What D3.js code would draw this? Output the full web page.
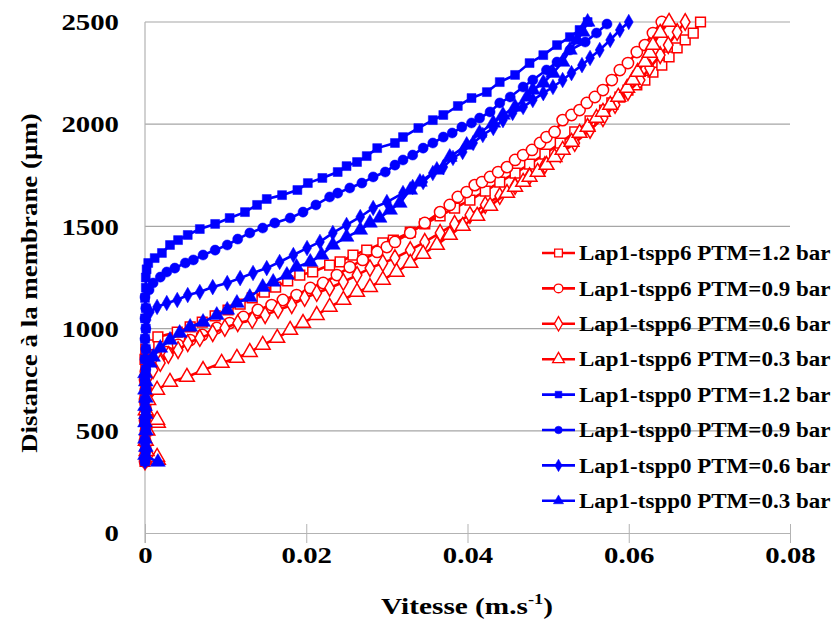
<!DOCTYPE html>
<html><head><meta charset="utf-8">
<script src="https://cdn.jsdelivr.net/npm/d3@7"></script>
<style>body{margin:0;background:#fff}svg{display:block}text{font-family:"Liberation Serif","Times New Roman",serif;font-weight:bold;fill:#000}</style>
</head><body><svg id="c" width="834" height="623"></svg>
<script>
// [velocity (m/s), distance (µm)]
const tspp6_12 = [[0,350],[0.0001,400],[0,450],[0.0001,500],[0,550],[0.0001,600],[0,650],[0.0001,700],[0,750],[0.0001,800],[0,850],[0.0001,900],[0.0005,920],[0.0016,959],[0.0040,983],[0.0056,1008],[0.0071,1032],[0.0087,1062],[0.0103,1091],[0.0118,1120],[0.0133,1150],[0.0148,1179],[0.0162,1203],[0.0177,1233],[0.0192,1262],[0.0208,1277],[0.0229,1311],[0.0242,1326],[0.0258,1360],[0.0275,1384],[0.0295,1419],[0.0308,1433],[0.0329,1472],[0.0347,1512],[0.0366,1551],[0.0384,1590],[0.0403,1629],[0.0422,1673],[0.0440,1717],[0.0459,1761],[0.0477,1805],[0.0496,1854],[0.0515,1908],[0.0533,1962],[0.0552,2016],[0.0570,2069],[0.0579,2104],[0.0589,2133],[0.0599,2167],[0.0610,2192],[0.0620,2216],[0.0630,2255],[0.0641,2289],[0.0650,2329],[0.0660,2373],[0.0670,2412],[0.0680,2446],[0.0689,2500]];
const tspp6_09 = [[0,350],[0.0001,400],[0,450],[0.0001,500],[0,550],[0.0001,600],[0,650],[0.0001,700],[0,750],[0.0001,790],[0.0006,812],[0.0016,856],[0.0027,885],[0.0041,920],[0.0056,944],[0.0071,969],[0.0089,1003],[0.0105,1027],[0.0122,1057],[0.0140,1091],[0.0157,1115],[0.0171,1140],[0.0188,1164],[0.0205,1199],[0.0221,1223],[0.0238,1262],[0.0254,1301],[0.0270,1336],[0.0288,1375],[0.0300,1399],[0.0310,1424],[0.0329,1468],[0.0347,1517],[0.0366,1570],[0.0378,1605],[0.0388,1644],[0.0399,1668],[0.0409,1702],[0.0418,1717],[0.0428,1742],[0.0438,1766],[0.0449,1790],[0.0459,1825],[0.0469,1849],[0.0480,1874],[0.0490,1908],[0.0498,1937],[0.0508,1962],[0.0518,2020],[0.0529,2045],[0.0539,2069],[0.0548,2104],[0.0558,2133],[0.0568,2167],[0.0579,2216],[0.0589,2265],[0.0599,2299],[0.0610,2353],[0.0620,2387],[0.0630,2446],[0.0641,2500]];
const tspp6_06 = [[0,350],[0.0001,400],[0,450],[0.0001,500],[0,550],[0.0001,600],[0,650],[0.0001,700],[0.0003,760],[0.0010,797],[0.0019,832],[0.0029,871],[0.0041,895],[0.0053,929],[0.0068,954],[0.0084,978],[0.0099,1003],[0.0115,1027],[0.0133,1042],[0.0149,1066],[0.0165,1091],[0.0182,1115],[0.0198,1150],[0.0213,1174],[0.0229,1199],[0.0246,1228],[0.0263,1262],[0.0279,1296],[0.0295,1321],[0.0310,1345],[0.0329,1384],[0.0347,1424],[0.0366,1468],[0.0384,1512],[0.0403,1556],[0.0422,1605],[0.0440,1649],[0.0459,1698],[0.0477,1746],[0.0496,1800],[0.0515,1854],[0.0533,1908],[0.0552,1972],[0.0568,2030],[0.0583,2094],[0.0599,2157],[0.0614,2216],[0.0626,2275],[0.0639,2338],[0.0649,2387],[0.0660,2451],[0.0670,2500]];
const tspp6_03 = [[0.0016,357],[0.0015,372],[0.0002,400],[0.0001,450],[0.0003,500],[0.0016,538],[0.0015,553],[0.0001,600],[0.0004,650],[0.0015,700],[0.0031,739],[0.0052,763],[0.0072,797],[0.0095,832],[0.0114,856],[0.0130,885],[0.0146,920],[0.0164,954],[0.0180,993],[0.0196,1027],[0.0213,1066],[0.0229,1106],[0.0246,1140],[0.0263,1179],[0.0279,1203],[0.0295,1238],[0.0312,1277],[0.0329,1321],[0.0345,1365],[0.0362,1409],[0.0378,1458],[0.0394,1502],[0.0412,1551],[0.0428,1600],[0.0449,1663],[0.0459,1693],[0.0469,1717],[0.0477,1742],[0.0487,1766],[0.0498,1800],[0.0508,1839],[0.0518,1874],[0.0529,1913],[0.0539,1957],[0.0549,1986],[0.0560,2030],[0.0568,2060],[0.0577,2094],[0.0587,2133],[0.0598,2177],[0.0605,2216],[0.0611,2255],[0.0620,2304],[0.0626,2348],[0.0630,2387],[0.0639,2446],[0.0650,2500]];
const tspp0_12 = [[0,350],[0.0001,400],[0,450],[0.0001,500],[0,550],[0.0001,600],[0,650],[0.0001,700],[0,750],[0.0001,800],[0,850],[0.0001,900],[0,950],[0.0001,1000],[0,1050],[0.0001,1100],[0,1150],[0.0001,1200],[0.0001,1250],[0.0002,1290],[0.0004,1321],[0.0012,1345],[0.0021,1370],[0.0031,1409],[0.0041,1433],[0.0053,1458],[0.0068,1487],[0.0087,1512],[0.0105,1541],[0.0124,1570],[0.0139,1605],[0.0151,1634],[0.0170,1653],[0.0189,1678],[0.0202,1712],[0.0220,1737],[0.0239,1766],[0.0250,1795],[0.0263,1815],[0.0275,1844],[0.0288,1883],[0.0310,1908],[0.0320,1937],[0.0339,1981],[0.0357,2020],[0.0370,2045],[0.0388,2089],[0.0405,2128],[0.0424,2157],[0.0440,2206],[0.0459,2241],[0.0477,2299],[0.0494,2338],[0.0511,2387],[0.0527,2426],[0.0539,2461],[0.0549,2500]];
const tspp0_09 = [[0,350],[0.0001,400],[0,450],[0.0001,500],[0,550],[0.0001,600],[0,650],[0.0001,700],[0,750],[0.0001,800],[0,850],[0.0001,900],[0,950],[0.0001,1000],[0,1050],[0.0001,1100],[0,1154],[0.0005,1189],[0.0010,1223],[0.0019,1252],[0.0027,1277],[0.0037,1296],[0.0050,1321],[0.0060,1336],[0.0072,1360],[0.0087,1384],[0.0102,1409],[0.0115,1438],[0.0130,1468],[0.0146,1492],[0.0161,1517],[0.0180,1541],[0.0196,1570],[0.0212,1605],[0.0229,1644],[0.0239,1663],[0.0254,1688],[0.0269,1712],[0.0283,1742],[0.0298,1766],[0.0310,1800],[0.0320,1825],[0.0332,1849],[0.0345,1883],[0.0357,1908],[0.0370,1937],[0.0381,1957],[0.0393,1986],[0.0405,2006],[0.0415,2030],[0.0428,2060],[0.0440,2104],[0.0453,2133],[0.0469,2182],[0.0481,2216],[0.0498,2265],[0.0511,2304],[0.0527,2363],[0.0546,2402],[0.0560,2446],[0.0573,2490]];
const tspp0_06 = [[0,350],[0.0001,400],[0,450],[0.0001,500],[0,550],[0.0001,600],[0,650],[0.0001,700],[0,750],[0.0001,800],[0,850],[0.0001,900],[0,950],[0.0001,1000],[0.0002,1042],[0.0006,1081],[0.0015,1106],[0.0027,1125],[0.0040,1140],[0.0053,1164],[0.0068,1179],[0.0084,1203],[0.0102,1223],[0.0118,1247],[0.0134,1272],[0.0151,1296],[0.0167,1326],[0.0184,1360],[0.0201,1394],[0.0217,1424],[0.0233,1468],[0.0250,1507],[0.0267,1546],[0.0283,1590],[0.0300,1619],[0.0320,1663],[0.0332,1693],[0.0345,1717],[0.0357,1761],[0.0370,1790],[0.0382,1835],[0.0394,1864],[0.0407,1908],[0.0419,1947],[0.0432,1981],[0.0444,2020],[0.0456,2055],[0.0469,2084],[0.0481,2118],[0.0494,2152],[0.0506,2182],[0.0518,2216],[0.0529,2250],[0.0542,2289],[0.0552,2324],[0.0564,2363],[0.0577,2412],[0.0589,2461],[0.0600,2500]];
const tspp0_03 = [[0.0016,347],[0,380],[0.0001,420],[0,460],[0.0001,500],[0,540],[0.0001,580],[0,620],[0.0001,660],[0,700],[0.0001,740],[0,780],[0.0006,832],[0.0010,861],[0.0019,905],[0.0031,944],[0.0043,978],[0.0056,1008],[0.0072,1032],[0.0089,1066],[0.0102,1091],[0.0114,1125],[0.0130,1154],[0.0146,1203],[0.0159,1228],[0.0176,1262],[0.0188,1301],[0.0205,1326],[0.0219,1360],[0.0233,1409],[0.0250,1448],[0.0267,1482],[0.0279,1517],[0.0291,1541],[0.0304,1580],[0.0316,1614],[0.0329,1678],[0.0341,1717],[0.0362,1776],[0.0378,1839],[0.0399,1898],[0.0415,1957],[0.0432,2006],[0.0444,2045],[0.0459,2084],[0.0474,2133],[0.0481,2167],[0.0494,2202],[0.0506,2250],[0.0518,2304],[0.0527,2363],[0.0536,2412],[0.0543,2451],[0.0549,2500]];

const seriesNames = ["Lap1-tspp6 PTM=1.2 bar","Lap1-tspp6 PTM=0.9 bar","Lap1-tspp6 PTM=0.6 bar","Lap1-tspp6 PTM=0.3 bar",
                     "Lap1-tspp0 PTM=1.2 bar","Lap1-tspp0 PTM=0.9 bar","Lap1-tspp0 PTM=0.6 bar","Lap1-tspp0 PTM=0.3 bar"];
const seriesData = [tspp6_12,tspp6_09,tspp6_06,tspp6_03,tspp0_12,tspp0_09,tspp0_06,tspp0_03];
const xTicks = [0,0.02,0.04,0.06,0.08];
const xTickLabels = ["0","0.02","0.04","0.06","0.08"];
const yTicks = [0,500,1000,1500,2000,2500];
const yTickLabels = ["0","500","1000","1500","2000","2500"];
const xTitle = "Vitesse (m.s";
const yTitle = "Distance à la membrane (µm)";

const RED = "#ff0000", BLUE = "#0000ff";
const styles = [
  {c:RED, s:d3.symbolSquare, size:95, open:true},
  {c:RED, s:d3.symbolCircle, size:100, open:true},
  {c:RED, s:d3.symbolDiamond, size:80, open:true},
  {c:RED, s:d3.symbolTriangle, size:95, open:true},
  {c:BLUE, s:d3.symbolSquare, size:80, open:false},
  {c:BLUE, s:d3.symbolCircle, size:80, open:false},
  {c:BLUE, s:d3.symbolDiamond, size:70, open:false},
  {c:BLUE, s:d3.symbolTriangle, size:95, open:false}
];

const svg = d3.select("#c");
const L=145, R=790, T=22, B=533;
const x = d3.scaleLinear().domain([0,0.08]).range([L,R]);
const y = d3.scaleLinear().domain([0,2500]).range([B,T]);
const SX = 1.2;

// gridlines
svg.append("g").selectAll("line").data(yTicks.filter(d=>d>0)).join("line")
  .attr("x1",L).attr("x2",R).attr("y1",d=>y(d)).attr("y2",d=>y(d))
  .attr("stroke","#a6a6a6").attr("stroke-width",1.2);
// x axis
const xa = svg.append("g").attr("transform",`translate(0,${B})`)
  .call(d3.axisBottom(x).tickValues(xTicks).tickSizeInner(10).tickSizeOuter(0).tickFormat((d,i)=>xTickLabels[i]));
xa.select(".domain").attr("stroke","#b3b3b3").attr("stroke-width",1.2);
xa.selectAll(".tick line").attr("stroke","#b3b3b3").attr("y1",-9).attr("y2",10);
xa.selectAll(".tick text").attr("y",13).attr("dy","0.71em").attr("transform",`scale(${SX},1)`)
  .attr("font-size",24).attr("font-family","Liberation Serif").attr("font-weight","bold").attr("fill","#000");
// y axis
const ya = svg.append("g").attr("transform",`translate(${L},0)`)
  .call(d3.axisLeft(y).tickValues(yTicks).tickSize(0).tickFormat((d,i)=>yTickLabels[i]));
ya.select(".domain").remove();
ya.selectAll(".tick text").attr("x",-26/SX).attr("transform",`scale(${SX},1)`)
  .attr("font-size",24).attr("font-family","Liberation Serif").attr("font-weight","bold").attr("fill","#000");
svg.append("line").attr("x1",L).attr("x2",L).attr("y1",T).attr("y2",B+10).attr("stroke","#b3b3b3").attr("stroke-width",1.2);

// series
const line = d3.line().x(d=>x(d[0])).y(d=>y(d[1]));
seriesData.forEach((data,i)=>{
  const st = styles[i];
  const g = svg.append("g");
  g.append("path").datum(data).attr("d",line).attr("fill","none").attr("stroke",st.c).attr("stroke-width",2.6);
  g.selectAll("path.m").data(data).join("path").attr("class","m")
    .attr("d",d3.symbol().type(st.s).size(st.size))
    .attr("transform",d=>`translate(${x(d[0])},${y(d[1])})`)
    .attr("fill",st.open?"#fff":st.c).attr("stroke",st.c).attr("stroke-width",st.open?1.5:0.5);
});

// legend
const lg = svg.append("g");
seriesNames.forEach((name,i)=>{
  const st = styles[i];
  const yy = 253 + i*35.4;
  lg.append("line").attr("x1",542).attr("x2",575).attr("y1",yy).attr("y2",yy).attr("stroke",st.c).attr("stroke-width",2.6);
  lg.append("path").attr("d",d3.symbol().type(st.s).size(st.open?60:45)()).attr("transform",`translate(558.5,${yy})`)
    .attr("fill",st.open?"#fff":st.c).attr("stroke",st.c).attr("stroke-width",st.open?1.3:0.5);
  lg.append("text").attr("transform",`translate(579,${yy}) scale(1.15,1)`).attr("dy","0.36em").attr("font-size",20).text(name);
});

// titles
const xt = svg.append("text").attr("transform",`translate(467,614) scale(1.22,1)`).attr("text-anchor","middle").attr("font-size",24);
xt.append("tspan").text(xTitle);
xt.append("tspan").attr("font-size",15).attr("dy",-10).text("-1");
xt.append("tspan").attr("dy",10).text(")");
svg.append("text").attr("transform","translate(37,283) rotate(-90) scale(1.17,1)").attr("text-anchor","middle").attr("font-size",23).text(yTitle);
</script></body></html>
